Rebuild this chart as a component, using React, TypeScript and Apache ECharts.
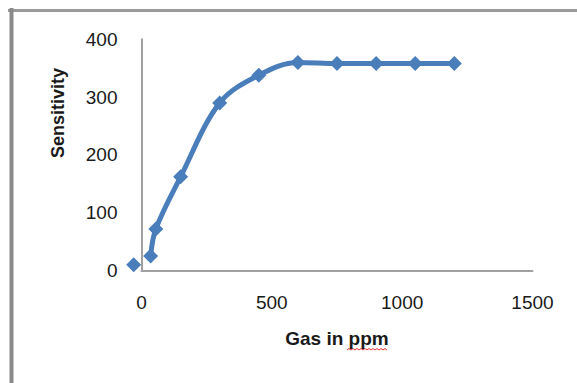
import React, { useEffect, useRef } from "react";
import * as echarts from "echarts";

const gasPpm = [35, 55, 150, 300, 450, 600, 750, 900, 1050, 1200];
const sensitivity = [25, 72, 162, 290, 338, 360, 358, 358, 358, 358];
const strayPoint = [[-30, 10]];
const xTicks = { min: 0, max: 1500, interval: 500 };
const yTicks = { min: 0, max: 400, interval: 100 };
const xTitle = "Gas in ppm";
const yTitle = "Sensitivity";

const BLUE = "#4a7ebb";
const FONT = "'Liberation Sans', Arial, sans-serif";

export default function App() {
  const ref = useRef<HTMLDivElement>(null);
  useEffect(() => {
    if (!ref.current) return;
    const chart = echarts.init(ref.current, null, { renderer: "svg" });
    const lineData = gasPpm.map((x, i) => [x, sensitivity[i]]);
    chart.setOption({
      animation: false,
      backgroundColor: "#ffffff",
      grid: { left: 141.5, right: 44.5, top: 39.3, bottom: 112.5 },
      xAxis: {
        type: "value",
        min: xTicks.min,
        max: xTicks.max,
        interval: xTicks.interval,
        name: xTitle,
        nameLocation: "middle",
        nameGap: 58,
        nameTextStyle: { fontFamily: FONT, fontWeight: "bold", fontSize: 19, color: "#1a1a1a" },
        axisLine: { show: true, onZero: false, lineStyle: { color: "#a0a0a0", width: 2 } },
        axisTick: { show: false },
        splitLine: { show: false },
        axisLabel: {
          margin: 22,
          fontFamily: FONT,
          fontSize: 19,
          color: "#1a1a1a",
          formatter: (v: number) => String(v),
        },
      },
      yAxis: {
        type: "value",
        min: yTicks.min,
        max: yTicks.max,
        interval: yTicks.interval,
        axisLine: { show: true, lineStyle: { color: "#a0a0a0", width: 2 } },
        axisTick: { show: false },
        splitLine: { show: false },
        axisLabel: {
          margin: 24,
          fontFamily: FONT,
          fontSize: 19,
          color: "#1a1a1a",
          formatter: (v: number) => String(v),
        },
      },
      graphic: [
        {
          type: "line",
          shape: { x1: 8, y1: 10.5, x2: 577, y2: 10.5 },
          style: { stroke: "#9a9a9a", lineWidth: 3 },
        },
        {
          type: "line",
          shape: { x1: 11.5, y1: 8, x2: 11.5, y2: 383 },
          style: { stroke: "#8a8a8a", lineWidth: 4 },
        },
        {
          type: "text",
          x: 58,
          y: 113,
          rotation: Math.PI / 2,
          style: {
            text: yTitle,
            fontFamily: FONT,
            fontWeight: "bold",
            fontSize: 18,
            fill: "#1a1a1a",
            align: "center",
            verticalAlign: "middle",
          },
        },
        {
          type: "polyline",
          shape: {
            points: [
              [347, 350], [349, 348.5], [351, 350], [353, 348.5], [355, 350], [357, 348.5],
              [359, 350], [361, 348.5], [363, 350], [365, 348.5], [367, 350], [369, 348.5],
              [371, 350], [373, 348.5], [375, 350], [377, 348.5], [379, 350], [381, 348.5],
              [383, 350], [385, 348.5], [387, 350],
            ],
          },
          style: { stroke: "#e03030", lineWidth: 1, fill: null },
        },
      ],
      series: [
        {
          type: "line",
          data: lineData,
          smooth: 0.35,
          clip: false,
          symbol: "diamond",
          symbolSize: 15,
          showSymbol: true,
          lineStyle: { color: BLUE, width: 5 },
          itemStyle: { color: BLUE, opacity: 1 },
        },
        {
          type: "scatter",
          data: strayPoint,
          clip: false,
          symbol: "diamond",
          symbolSize: 15,
          itemStyle: { color: BLUE, opacity: 1 },
        },
      ],
    });
    return () => chart.dispose();
  }, []);
  return (
    <div
      ref={ref}
      style={{ position: "fixed", left: 0, top: 0, width: 577, height: 383, background: "#fff" }}
    />
  );
}
